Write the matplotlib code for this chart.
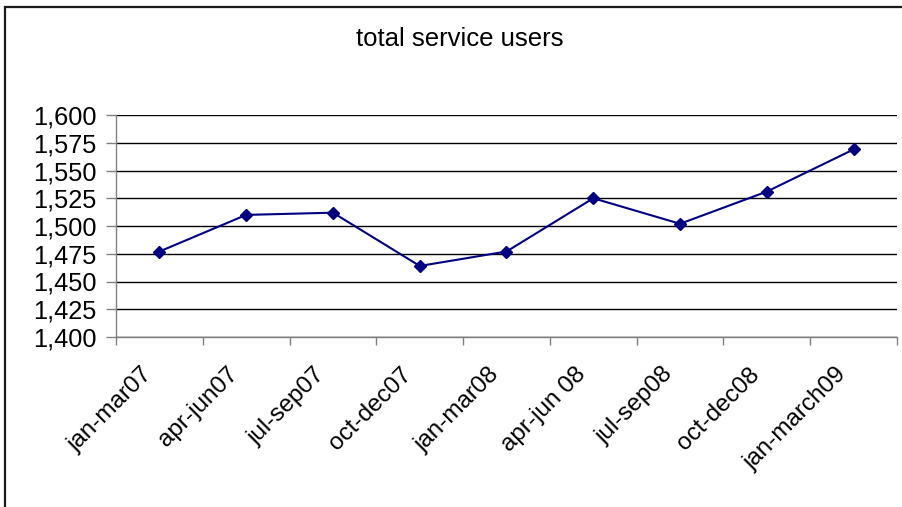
import matplotlib
matplotlib.use("Agg")
import matplotlib.pyplot as plt
from matplotlib.ticker import FuncFormatter, FixedLocator
from matplotlib.patches import Rectangle
from matplotlib.transforms import ScaledTranslation

categories = ["jan-mar07", "apr-jun07", "jul-sep07", "oct-dec07", "jan-mar08",
              "apr-jun 08", "jul-sep08", "oct-dec08", "jan-march09"]
users = [1477, 1510, 1512, 1464, 1477, 1525, 1502, 1531, 1569]
y_ticks = [1400, 1425, 1450, 1475, 1500, 1525, 1550, 1575, 1600]
title = "total service users"

plt.rcParams['font.family'] = ['Liberation Sans', 'DejaVu Sans']

W, H = 903, 507
fig = plt.figure(figsize=(W / 100, H / 100), dpi=100)

# outer chart frame
fig.patches.append(Rectangle((5 / W, -0.05), 1.2, 1 - 7 / H + 0.05,
                             transform=fig.transFigure, fill=False,
                             edgecolor='#1a1a1a', linewidth=1.6))

ax = fig.add_axes([116 / W, 1 - 337 / H, (897 - 116) / W, (337 - 115) / H])

x = list(range(len(categories)))
ax.plot(x, users, color='#000080', linewidth=1.5, marker='D', markersize=6.2,
        markerfacecolor='#000080', markeredgecolor='#000080', zorder=3)

ax.set_xlim(-0.5, len(categories) - 0.5)
ax.set_ylim(1400, 1600)
ax.set_yticks(y_ticks)
ax.yaxis.set_major_formatter(FuncFormatter(lambda v, p: f"{int(v):,}"))
ax.grid(axis='y', color='black', linewidth=1.0)
ax.set_axisbelow(True)

ax.set_xticks(x)
ax.set_xticklabels([])
ax.tick_params(axis='x', which='major', length=0)
lbl_tr = ax.get_xaxis_transform() + ScaledTranslation(-11 / 100, -34 / 100, fig.dpi_scale_trans)
for xi, name in zip(x, categories):
    ax.text(xi, 0, name, transform=lbl_tr, rotation=45, ha='right', va='center',
            rotation_mode='anchor', fontsize=17.5, clip_on=False)

ax.xaxis.set_minor_locator(FixedLocator([i - 0.5 for i in range(len(categories) + 1)]))
ax.tick_params(axis='x', which='minor', length=6, width=1, color='#808080')
ax.tick_params(axis='y', length=7, width=1, color='#808080', labelsize=18.3, pad=7)

for s in ['top', 'right']:
    ax.spines[s].set_visible(False)
for s in ['left', 'bottom']:
    ax.spines[s].set_color('#808080')
    ax.spines[s].set_linewidth(1.0)

fig.text(460 / W, 1 - 39 / H, title, ha='center', va='center', fontsize=18.5)

fig.savefig("out.png", dpi=100)
